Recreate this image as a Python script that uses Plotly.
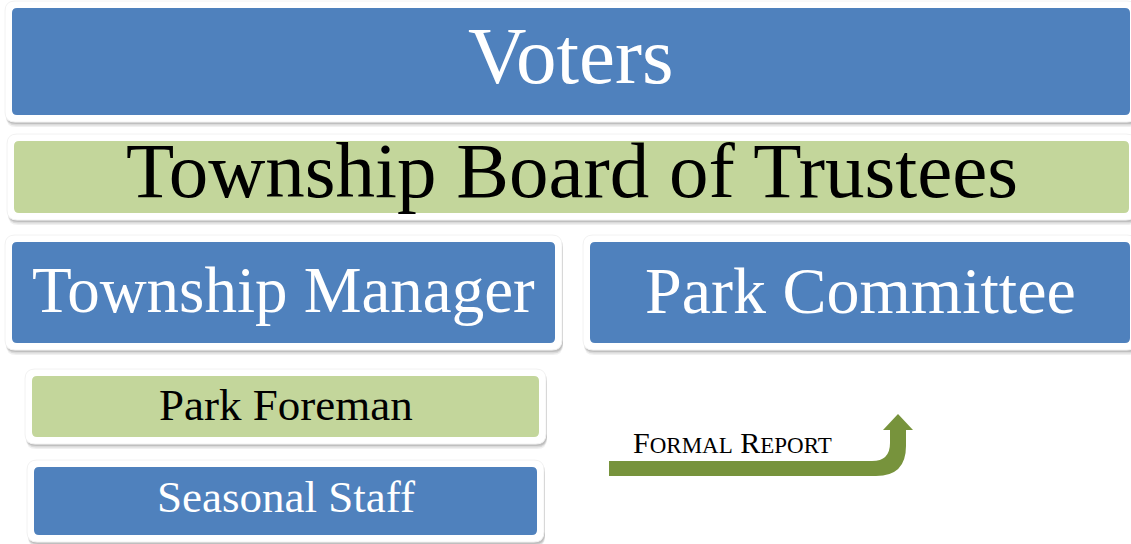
import plotly.graph_objects as go

# ---- content ----
labels = ["Voters", "Township Board of Trustees", "Township Manager",
          "Park Committee", "Park Foreman", "Seasonal Staff"]
fill_kind = ["blue", "green", "blue", "blue", "green", "blue"]
arrow_label = "Formal Report"

# ---- layout spec (pixels, y downward) ----
inner_boxes = [
    (12, 1130, 8, 115),
    (14, 1129, 141, 213),
    (12, 555, 242, 343),
    (590, 1130, 242, 343),
    (32, 539, 376, 437),
    (34, 537, 467, 535),
]
frame_pad = 7
font_sizes = [81, 79, 65, 66, 45, 45]
text_y = [56, 170, 290, 290, 405, 497]
colors = {"blue": "#4F81BD", "green": "#C3D69B"}
text_colors = {"blue": "white", "green": "black"}

W, H = 1131, 544


def rrect(x0, x1, y0, y1, r):
    return (f"M {x0+r},{y0} L {x1-r},{y0} Q {x1},{y0} {x1},{y0+r} "
            f"L {x1},{y1-r} Q {x1},{y1} {x1-r},{y1} L {x0+r},{y1} "
            f"Q {x0},{y1} {x0},{y1-r} L {x0},{y0+r} Q {x0},{y0} {x0+r},{y0} Z")


def small_caps(s, small_px):
    words = []
    for w in s.split():
        words.append(w[0].upper() + f"<span style='font-size:{small_px}px'>{w[1:].upper()}</span>")
    return " ".join(words)


shapes = []
annotations = []
for i, (lab, kind) in enumerate(zip(labels, fill_kind)):
    x0, x1, y0, y1 = inner_boxes[i]
    fx0, fx1, fy0, fy1 = x0 - frame_pad, x1 + frame_pad, y0 - frame_pad, y1 + frame_pad
    # shadow layers
    for off, op in [(5, 0.06), (3.5, 0.09), (2, 0.12)]:
        shapes.append(dict(type="path", path=rrect(fx0 + 1, fx1 + 1, fy0 + off, fy1 + off, 10),
                           fillcolor=f"rgba(0,0,0,{op})", line=dict(width=0), layer="below"))
    shapes.append(dict(type="path", path=rrect(fx0, fx1, fy0, fy1, 10),
                       fillcolor="white", line=dict(color="#F2F2F2", width=1), layer="below"))
    shapes.append(dict(type="path", path=rrect(x0, x1, y0, y1, 5),
                       fillcolor=colors[kind], line=dict(width=0), layer="below"))
    annotations.append(dict(x=(x0 + x1) / 2, y=text_y[i], text=lab, showarrow=False,
                            xanchor="center", yanchor="middle",
                            font=dict(family="Liberation Serif", size=font_sizes[i],
                                      color=text_colors[kind])))

# curved arrow
arrow_path = ("M 609,461 L 872,461 Q 890,461 890,443 L 890,430 L 883,430 L 898,414 "
              "L 913,430 L 906,430 L 906,446 Q 906,476 876,476 L 609,476 Z")
shapes.append(dict(type="path", path=arrow_path, fillcolor="#77933C",
                   line=dict(width=0), layer="above"))
annotations.append(dict(x=732, y=442, text=small_caps(arrow_label, 23), showarrow=False,
                        xanchor="center", yanchor="middle",
                        font=dict(family="Liberation Serif", size=30, color="black")))

fig = go.Figure()
fig.update_layout(
    width=W, height=H, margin=dict(l=0, r=0, t=0, b=0),
    paper_bgcolor="white", plot_bgcolor="white",
    xaxis=dict(range=[0, W], visible=False, fixedrange=True),
    yaxis=dict(range=[H, 0], visible=False, fixedrange=True),
    shapes=shapes, annotations=annotations, showlegend=False,
)
fig.write_html("out.html", config={"displayModeBar": False},
               post_script="document.body.style.margin='0';document.body.style.overflow='hidden';")
